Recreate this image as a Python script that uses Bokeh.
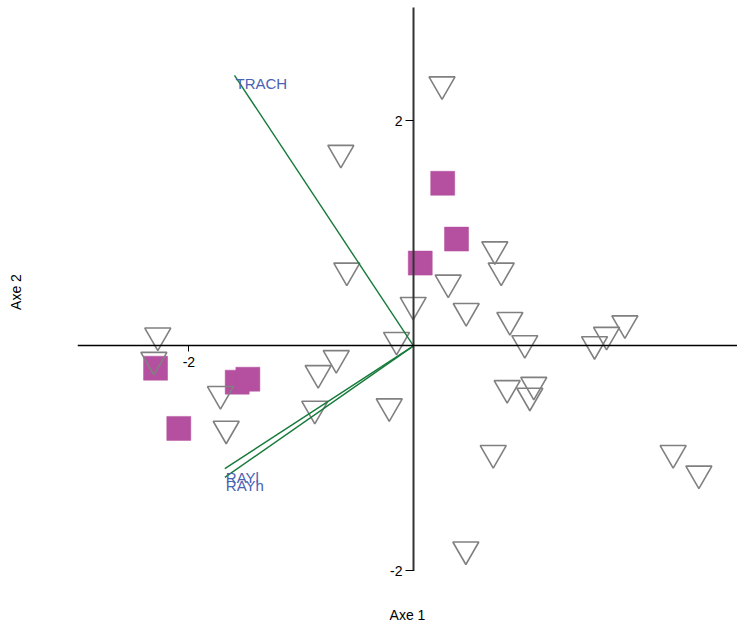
from bokeh.plotting import figure
from bokeh.models import ColumnDataSource, FixedTicker, LinearAxis, Range1d
from bokeh.core.properties import value
from bokeh.embed import file_html
from bokeh.resources import INLINE

# Row scores (inverted triangles)
tri_x = [0.254, -0.647, -0.594, 0.309, 0.724, 0.781, -0.003, 0.469, 0.858, 0.991,
         -0.151, 1.612, 1.719, 1.882, 2.312, 2.541, 0.834, 1.071, 1.036, 0.710,
         0.466, -2.277, -2.312, -0.688, -0.849, -1.719, -0.879, -0.216, -1.668]
tri_y = [2.324, 1.715, 0.669, 0.562, 0.858, 0.669, 0.364, 0.310, 0.230, 0.024,
         0.053, 0.015, 0.098, 0.200, -0.952, -1.135, -0.375, -0.346, -0.443, -0.952,
         -1.809, 0.092, -0.124, -0.109, -0.242, -0.428, -0.559, -0.537, -0.736]

# Second group (squares)
sq_x = [0.260, 0.383, 0.060, -2.297, -1.570, -1.475, -2.090]
sq_y = [1.445, 0.949, 0.736, -0.198, -0.322, -0.296, -0.733]

# Variable arrows
var_names = ["TRACH", "RAYl", "RAYh"]
var_x = [-1.594, -1.680, -1.680]
var_y = [2.404, -1.090, -1.168]

x_ticks = [-2]
y_ticks = [-2, 2]
x_tick_labels = {-2: "-2"}
y_tick_labels = {-2: "-2", 2: "2"}

FONT = "Liberation Sans"
Y_END = 3.007

p = figure(width=737, height=625, output_backend="svg", toolbar_location=None,
           x_range=Range1d(-2.992, 2.885), y_range=Range1d(-2.049, Y_END),
           min_border_left=77, min_border_right=0, min_border_top=7, min_border_bottom=48)
p.title.visible = False
p.grid.visible = False
p.outline_line_color = None
p.background_fill_color = "white"

# axes crossing at origin
xa = p.xaxis[0]
xa.fixed_location = 0
xa.ticker = FixedTicker(ticks=x_ticks)
xa.major_label_overrides = x_tick_labels
xa.minor_tick_line_color = None
xa.major_tick_in = 0
xa.major_tick_out = 6
xa.axis_line_color = "black"
xa.axis_line_width = 1.5
xa.major_tick_line_color = "black"
xa.major_label_text_font = FONT
xa.major_label_text_font_size = "14px"
xa.major_label_text_color = "black"
xa.major_label_standoff = 5

ya = p.yaxis[0]
ya.fixed_location = 0
ya.ticker = FixedTicker(ticks=y_ticks)
ya.major_label_overrides = y_tick_labels
ya.minor_tick_line_color = None
ya.major_tick_in = 0
ya.major_tick_out = 8
ya.axis_line_color = None
ya.major_tick_line_color = "black"
ya.major_label_text_font = FONT
ya.major_label_text_font_size = "14px"
ya.major_label_text_color = "black"
ya.major_label_standoff = 3

# vertical axis line, from the lowest tick up to the top of the range
p.segment(x0=[0], y0=[min(y_ticks)], x1=[0], y1=[Y_END],
          line_color="#333333", line_width=2, level="guide")

# axis titles on outer panels
for loc, lab, so in (("below", "Axe 1", 30), ("left", "Axe 2", 54)):
    ax = LinearAxis(ticker=FixedTicker(ticks=[]), axis_label=lab,
                    axis_line_color=None, major_tick_line_color=None,
                    minor_tick_line_color=None, major_tick_out=0, major_tick_in=0,
                    major_label_standoff=0, axis_label_standoff=so,
                    axis_label_text_font=FONT, axis_label_text_font_style="normal",
                    axis_label_text_font_size="14px", axis_label_text_color="black")
    p.add_layout(ax, loc)

sq_src = ColumnDataSource(dict(x=sq_x, y=sq_y))
p.scatter("x", "y", source=sq_src, marker="square", size=24,
          fill_color="#b4509f", line_color="#b4509f", line_width=0.5)

tri_src = ColumnDataSource(dict(x=tri_x, y=tri_y))
p.scatter("x", "y", source=tri_src, marker="inverted_triangle", size=26,
          fill_color=None, line_color="#808080", line_width=1.6)

var_src = ColumnDataSource(dict(x0=[0] * len(var_x), y0=[0] * len(var_y),
                                x=var_x, y=var_y, name=var_names))
p.segment("x0", "y0", "x", "y", source=var_src, line_color="#167a3a", line_width=1.4)
p.text("x", "y", text="name", source=var_src, text_align="left", text_baseline="top",
       x_offset=1, y_offset=0, text_font=value(FONT), text_font_size="15px",
       text_color="#4a62b4")

open("out.html", "w").write(file_html(p, INLINE))
